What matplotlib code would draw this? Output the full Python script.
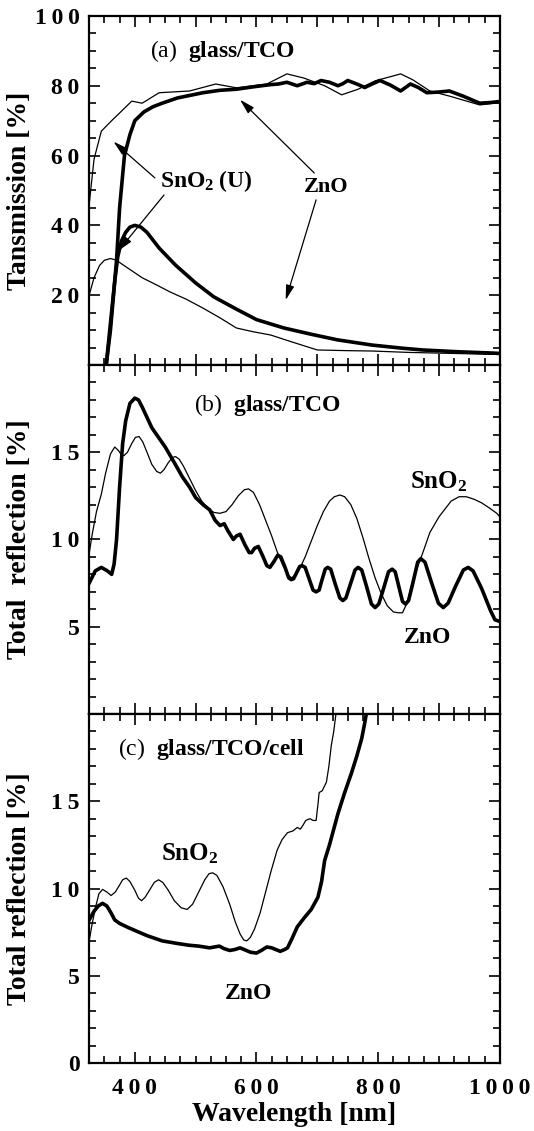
import matplotlib
matplotlib.use("Agg")
import matplotlib.pyplot as plt
from matplotlib.ticker import MultipleLocator, FixedLocator, FuncFormatter

plt.rcParams['font.family'] = ['Liberation Serif', 'DejaVu Serif']
plt.rcParams['mathtext.fontset'] = 'custom'
plt.rcParams['mathtext.rm'] = 'Liberation Serif:bold'
plt.rcParams['mathtext.bf'] = 'Liberation Serif:bold'
plt.rcParams['mathtext.default'] = 'rm'

# (a) transmission
a_zno_x = [353, 360, 366, 370, 375, 383, 392, 400, 415, 430, 445, 470, 512, 540, 567, 595,
           622, 636, 650, 667, 683, 695, 706, 720, 734, 742, 750, 765, 778, 790, 803, 820,
           837, 845, 853, 866, 880, 900, 917, 940, 967, 985, 1000]
a_zno_y = [0, 10, 22, 30, 45, 60, 66, 70, 72.5, 74, 75, 76.5, 78, 78.7, 79, 79.7,
           80.3, 80.5, 81, 80, 81, 80.6, 81.5, 81, 80, 80.6, 81.5, 80.5, 79.5, 80.5, 81.5, 80.2,
           78.5, 79.5, 80.5, 79.5, 78, 78.2, 78.5, 77, 75, 75.2, 75.5]
a_sno_x = [325, 333, 345, 362, 378, 395, 412, 440, 490, 533, 567, 617, 650, 678, 712, 740,
           767, 795, 837, 857, 885, 918, 967, 990, 1000]
a_sno_y = [46, 59, 67, 70, 72.7, 75.6, 75, 78, 78.5, 80.5, 79.4, 80.5, 83.4, 82.2, 80, 77.4,
           79, 81.4, 83.4, 81.7, 78.5, 77, 74.5, 75, 75.2]
a_zno_low_x = [353, 360, 367, 372, 378, 385, 392, 400, 410, 420, 440, 467, 500, 530, 567,
               600, 645, 690, 733, 790, 840, 873, 930, 990, 1000]
a_zno_low_y = [0, 12, 24, 31, 35.5, 38, 39.5, 40, 39.5, 38, 33.5, 28.6, 23.5, 19.5, 16,
               13, 10.6, 8.8, 7.2, 5.7, 4.8, 4.3, 3.8, 3.4, 3.3]
a_sno_low_x = [325, 333, 342, 350, 360, 370, 378, 395, 412, 435, 457, 485, 512, 540, 567,
               595, 623, 660, 700, 750, 790, 850, 900, 950, 1000]
a_sno_low_y = [20, 25, 28.5, 30, 30.5, 30, 29, 27, 25, 23, 21, 18.8, 16.3, 13.5, 10.6,
               9.5, 8.6, 6.5, 4.3, 4.1, 4, 3.6, 3.4, 3.2, 3]

# (b) total reflection glass/TCO
b_zno_x = [325, 335, 345, 355, 362, 366, 370, 375, 380, 385, 392, 400, 406, 412, 420, 428,
           440, 450, 465, 478, 490, 500, 512, 523, 532, 540, 547, 553, 562, 567, 573, 581,
           588, 592, 597, 603, 611, 617, 622, 628, 635, 640, 647, 653, 657, 661, 666, 671,
           675, 680, 686, 693, 698, 703, 707, 713, 717, 722, 729, 737, 742, 747, 754, 762,
           767, 773, 781, 789, 795, 801, 809, 817, 823, 828, 834, 840, 845, 850, 857, 865,
           870, 877, 888, 899, 907, 915, 927, 940, 948, 956, 970, 985, 992, 1000]
b_zno_y = [7.5, 8.2, 8.4, 8.2, 8.0, 8.6, 10.0, 13.0, 15.5, 16.8, 17.8, 18.1, 18.0, 17.6, 17.0, 16.4,
           15.8, 15.3, 14.4, 13.6, 13.0, 12.4, 12.0, 11.7, 11.1, 10.8, 10.9, 10.5, 10.0, 10.2, 10.3, 9.7,
           9.25, 9.25, 9.5, 9.6, 9.0, 8.5, 8.4, 8.7, 9.1, 9.0, 8.4, 7.8, 7.7, 7.75, 8.1, 8.45,
           8.5, 8.4, 7.8, 7.1, 7.0, 7.1, 7.6, 8.3, 8.4, 8.3, 7.5, 6.65, 6.5, 6.65, 7.4, 8.25,
           8.4, 8.25, 7.3, 6.3, 6.1, 6.3, 7.2, 8.15, 8.3, 8.15, 7.3, 6.45, 6.3, 6.5, 7.5, 8.7,
           8.9, 8.7, 7.5, 6.35, 6.1, 6.35, 7.3, 8.25, 8.4, 8.2, 7.2, 5.9, 5.4, 5.3]
b_sno_x = [325, 330, 337, 345, 352, 360, 367, 373, 378, 382, 388, 395, 401, 407, 413, 420,
           428, 436, 442, 448, 455, 462, 467, 473, 480, 490, 500, 510, 520, 530, 540, 550,
           560, 570, 580, 587, 595, 605, 615, 625, 635, 645, 652, 658, 665, 672, 680, 690,
           700, 710, 720, 728, 737, 745, 755, 765, 775, 785, 795, 805, 815, 825, 833, 840,
           848, 858, 873, 885, 900, 920, 933, 945, 958, 970, 983, 995, 1000]
b_sno_y = [9.2, 10.3, 11.6, 12.6, 13.8, 14.9, 15.3, 15.1, 14.85, 14.8, 15.0, 15.5, 15.85, 15.9, 15.6, 15.0,
           14.3, 13.9, 13.8, 14.0, 14.4, 14.7, 14.75, 14.6, 14.2, 13.5, 12.8, 12.2, 11.8, 11.55, 11.5, 11.6,
           12.0, 12.5, 12.85, 12.9, 12.7, 12.0, 11.1, 10.2, 9.2, 8.4, 7.95, 7.8, 8.0, 8.4, 9.0, 9.9,
           10.8, 11.6, 12.2, 12.45, 12.55, 12.45, 12.0, 11.2, 10.1, 8.9, 7.8, 6.9, 6.2, 5.85, 5.8, 5.8,
           6.4, 7.8, 9.2, 10.4, 11.3, 12.2, 12.45, 12.45, 12.3, 12.1, 11.8, 11.5, 11.3]

# (c) total reflection glass/TCO/cell
c_zno_x = [325, 333, 340, 347, 354, 361, 367, 375, 390, 400, 420, 445, 470, 489, 505, 523,
           531, 539, 547, 556, 564, 573, 580, 590, 600, 608, 617, 625, 632, 639, 646, 651,
           658, 667, 678, 690, 701, 707, 712, 720, 734, 745, 756, 765, 773, 778, 781]
c_zno_y = [8.2, 8.7, 9.0, 9.15, 9.0, 8.6, 8.2, 8.0, 7.75, 7.6, 7.3, 7.0, 6.85, 6.75, 6.7, 6.6,
           6.65, 6.7, 6.55, 6.45, 6.5, 6.6, 6.5, 6.35, 6.3, 6.45, 6.65, 6.6, 6.5, 6.4, 6.5, 6.6,
           7.1, 7.8, 8.3, 8.8, 9.5, 10.4, 11.6, 12.5, 14.3, 15.5, 16.6, 17.6, 18.6, 19.5, 20.1]
c_sno_x = [325, 330, 336, 341, 347, 354, 361, 368, 375, 380, 386, 392, 400, 406, 411, 417,
           425, 432, 439, 446, 455, 465, 476, 486, 495, 505, 515, 522, 528, 535, 545, 556,
           565, 573, 579, 584, 590, 597, 606, 615, 624, 634, 642, 651, 660, 667, 672, 676,
           681, 688, 693, 698, 701, 703, 708, 715, 719, 723, 727, 731]
c_sno_y = [7.0, 8.0, 9.0, 9.7, 9.95, 9.8, 9.6, 9.8, 10.2, 10.5, 10.6, 10.4, 9.9, 9.45, 9.3, 9.5,
           9.95, 10.35, 10.5, 10.35, 9.9, 9.3, 8.9, 8.8, 9.1, 9.8, 10.5, 10.85, 10.9, 10.75, 10.1, 9.1,
           8.1, 7.4, 7.05, 7.0, 7.2, 7.7, 8.6, 9.8, 11.0, 12.2, 12.8, 13.2, 13.3, 13.5, 13.4, 13.6,
           13.9, 14.0, 13.9, 13.9, 14.8, 15.5, 15.6, 16.1, 17.0, 18.2, 19.0, 20.1]

thin = 0.9
thick = 2.6

fig = plt.figure(figsize=(5.34, 11.31), dpi=100)
L, W, H = 0.167, 0.769, 0.3086
ax_a = fig.add_axes([L, 0.6773, W, H])
ax_b = fig.add_axes([L, 0.3687, W, H])
ax_c = fig.add_axes([L, 0.0601, W, H])

# letter-spaced tick numbers like the original figure
def spaced(v, pos):
    return '\u2009'.join(str(int(round(v))))

for ax in (ax_a, ax_b, ax_c):
    ax.set_xlim(325, 1000)
    ax.xaxis.set_major_locator(MultipleLocator(100))
    ax.xaxis.set_minor_locator(MultipleLocator(25))
    ax.tick_params(which='both', direction='in', top=True, right=True, width=1.2)
    ax.tick_params(which='major', length=8)
    ax.tick_params(which='minor', length=5)
    ax.tick_params(axis='y', labelsize=17, pad=7)
    for s in ax.spines.values():
        s.set_linewidth(1.6)
    ax.yaxis.set_major_formatter(FuncFormatter(spaced))

for ax in (ax_a, ax_b):
    ax.tick_params(axis='x', labelbottom=False)

ax_c.xaxis.set_major_locator(FixedLocator([400, 600, 800, 1000]))
ax_c.xaxis.set_minor_locator(FixedLocator(list(range(350, 1000, 25))))
ax_c.tick_params(axis='x', labelsize=17, pad=11)
ax_c.xaxis.set_major_formatter(FuncFormatter(spaced))

lab = dict(fontsize=20, fontweight='bold')
note = dict(fontsize=17, va='center')
name = dict(fontweight='bold', ha='center', va='center')

# panel (a)
ax_a.plot(a_sno_x, a_sno_y, color='k', lw=thin)
ax_a.plot(a_zno_x, a_zno_y, color='k', lw=thick)
ax_a.plot(a_sno_low_x, a_sno_low_y, color='k', lw=thin)
ax_a.plot(a_zno_low_x, a_zno_low_y, color='k', lw=thick)
ax_a.set_ylim(0, 100)
ax_a.yaxis.set_major_locator(FixedLocator([20, 40, 60, 80, 100]))
ax_a.yaxis.set_minor_locator(MultipleLocator(5))
ax_a.set_ylabel('Tansmission [%]', **lab)
ax_a.text(425, 90, r'(a)  $\mathbf{glass/TCO}$', **note)
ax_a.text(517, 52.7, 'SnO$_2$\u2009(U)', fontsize=17, **name)
ax_a.text(715, 51, 'ZnO', fontsize=16, **name)
arrow = dict(arrowstyle='-|>,head_length=0.9,head_width=0.25', color='k', lw=0.9,
             shrinkA=0, shrinkB=0)
ax_a.annotate('', xy=(365, 64), xytext=(433, 53.6), arrowprops=arrow)
ax_a.annotate('', xy=(373, 32.7), xytext=(448, 48.7), arrowprops=arrow)
ax_a.annotate('', xy=(573, 76), xytext=(695, 55), arrowprops=arrow)
ax_a.annotate('', xy=(648, 18.6), xytext=(698, 47.3), arrowprops=arrow)

# panel (b)
ax_b.plot(b_sno_x, b_sno_y, color='k', lw=thin)
ax_b.plot(b_zno_x, b_zno_y, color='k', lw=thick)
ax_b.set_ylim(0, 20)
ax_b.yaxis.set_major_locator(FixedLocator([5, 10, 15]))
ax_b.yaxis.set_minor_locator(MultipleLocator(1))
ax_b.set_ylabel('Total  reflection [%]', **lab)
ax_b.text(498, 17.7, r'(b)  $\mathbf{glass/TCO}$', **note)
ax_b.text(900, 13.3, r'SnO$_2$', fontsize=18, **name)
ax_b.text(882, 4.4, 'ZnO', fontsize=17, **name)

# panel (c)
ax_c.plot(c_sno_x, c_sno_y, color='k', lw=thin)
ax_c.plot(c_zno_x, c_zno_y, color='k', lw=thick)
ax_c.set_ylim(0, 20)
ax_c.yaxis.set_major_locator(FixedLocator([0, 5, 10, 15]))
ax_c.yaxis.set_minor_locator(MultipleLocator(1))
ax_c.set_ylabel('Total reflection [%]', **lab)
ax_c.set_xlabel('Wavelength [nm]', labelpad=2, **lab)
ax_c.text(373, 18.0, r'(c)  $\mathbf{glass/TCO/cell}$', **note)
ax_c.text(490, 12.0, r'SnO$_2$', fontsize=18, **name)
ax_c.text(587, 4.0, 'ZnO', fontsize=17, **name)

for ax in (ax_a, ax_b, ax_c):
    ax.yaxis.set_label_coords(-0.14, 0.5)
    for t in ax.get_yticklabels() + ax.get_xticklabels():
        t.set_fontweight('bold')

fig.savefig('out.png', dpi=100)
